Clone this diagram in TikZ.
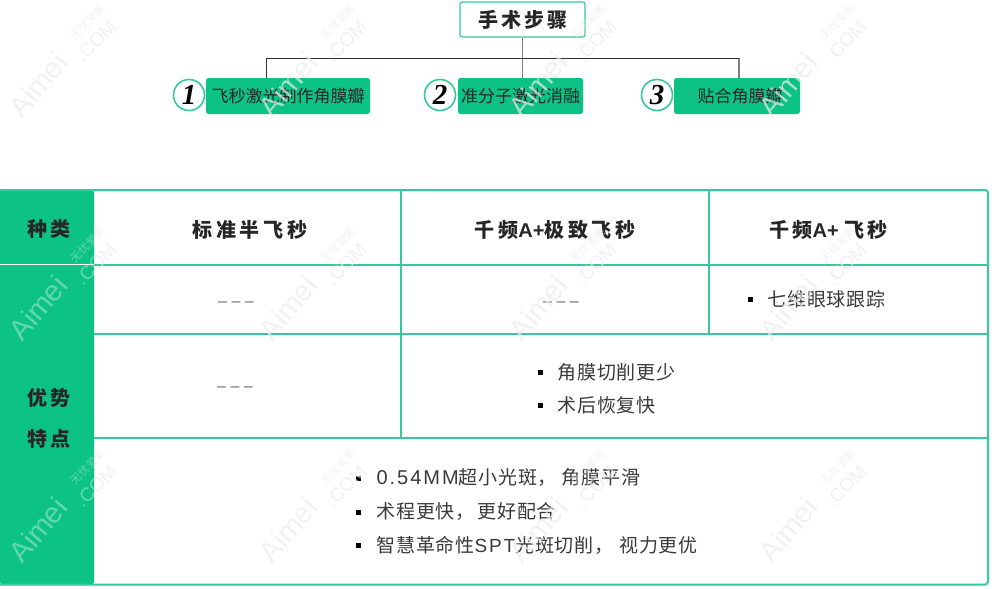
\documentclass[tikz,border=0pt]{standalone}
\usepackage{fontspec}
\setmainfont{Noto Sans CJK SC}
\newfontfamily\numfont{Liberation Serif}
\newfontfamily\lat{Liberation Sans}
\definecolor{gr}{HTML}{0DC285}
\definecolor{ln}{HTML}{35C99B}
\definecolor{txt}{HTML}{3A3A3A}
\newcommand{\wmark}[4]{%
 \begin{scope}[shift={(#1,#2)}]
  \node[rotate=50,text=#3,opacity=#4,font=\lat\fontsize{29}{29}\selectfont] at (0,0) {Aimei};
  \node[rotate=46,text=#3,opacity=#4,font=\lat\fontsize{19}{19}\selectfont] at (58,-44) {.COM};
  \node[rotate=46,text=#3,opacity=#4,font=\fontsize{11}{11}\selectfont] at (50,-63) {无忧爱美};
 \end{scope}}
\tikzset{
 x=1pt,y=-1pt,
 stepbox/.style={fill=gr,rounded corners=2.5pt,minimum height=36pt,inner sep=0pt,font=\fontsize{17}{17}\selectfont,text=black!85},
 numc/.style={circle,draw=ln,fill=white,line width=1.6pt,minimum size=31pt,inner sep=0pt,font=\numfont\fontsize{29}{29}\selectfont\bfseries\itshape},
 head/.style={font=\fontsize{20}{20}\selectfont\bfseries\addfontfeature{LetterSpace=18},text=black!85},
 side/.style={font=\fontsize{20}{20}\selectfont\bfseries\addfontfeature{LetterSpace=15},text=black!85},
 body/.style={font=\fontsize{19}{19}\selectfont\addfontfeature{LetterSpace=4},text=txt,anchor=west},
 bul/.style={fill=black,minimum size=5pt,inner sep=0pt},
 dashtxt/.style={font=\lat\fontsize{16}{16}\selectfont,text=black!60},
 tline/.style={draw=ln,line width=2pt},
}
\begin{document}
\begin{tikzpicture}
\useasboundingbox (0,0) rectangle (997,589);
\fill[white] (0,0) rectangle (997,589);
% table
\fill[gr,rounded corners=3pt] (0,189) -- (94,189) -- (94,585) -- (0,585) -- cycle;
\draw[white,line width=1pt] (0,264.5) -- (94,264.5);
\draw[tline,rounded corners=3pt] (0,190) -- (988,190) -- (988,584.5) -- (0,584.5);
\draw[tline] (94,264.5) -- (988,264.5);
\draw[tline] (94,333.5) -- (988,333.5);
\draw[tline] (94,437.5) -- (988,437.5);
\draw[tline] (401,190) -- (401,437.5);
\draw[tline] (709,190) -- (709,333.5);
% top tree
\node[draw=ln,fill=white,line width=1.2pt,rounded corners=2.5pt,minimum width=125pt,minimum height=35pt,inner sep=0pt,font=\fontsize{20}{20}\selectfont\bfseries\addfontfeature{LetterSpace=15},text=black!85] (root) at (522.5,19.5) {手术步骤};
\node[stepbox,minimum width=164pt] (s1) at (288,96) {飞秒激光制作角膜瓣};
\node[stepbox,minimum width=125pt] (s2) at (520.5,96) {准分子激光消融};
\node[stepbox,minimum width=126pt] (s3) at (737,96) {\hspace{6pt}贴合角膜瓣};
\coordinate (bus) at (522.5,58);
\coordinate (busl) at (266,58);
\coordinate (busr) at (739,58);
\draw[gray,line width=1.5pt] (root.south) -- (bus);
\draw[gray,line width=1.5pt] (bus) -- (bus |- s2.north);
\draw[gray,line width=1.5pt] (busr) -- (busr |- s3.north);
\draw[black!80,line width=.9pt] (busl |- s1.north) -- (busl) -- (busr);
\node[numc] (n1) at (189,95) {1};
\node[numc] (n2) at (440,95) {2};
\node[numc] (n3) at (657,95) {3};
\node[side] (k1) at (49,229) {种类};
\node[side] (k2) at (49,398) {优势};
\node[side] (k3) at (49,439) {特点};
\node[head] (h1) at (250,230) {标准半飞秒};
\node[head] (h2) at (555,230) {千频{\lat A+}极致飞秒};
\node[head] (h3) at (828.5,230) {千频{\lat A+ }飞秒};
\node[dashtxt] (d1) at (236,304) {– – –};
\node[dashtxt] (d2) at (561,304) {– – –};
\node[dashtxt] (d3) at (235,389) {– – –};
\node[bul] (b0) at (750,299) {};
\node[body] (t0) at (764,299) {七维眼球跟踪};
\node[bul] (b1) at (540,372) {};
\node[body] (t1) at (554,372) {角膜切削更少};
\node[bul] (b2) at (540,405) {};
\node[body] (t2) at (554,405) {术后恢复快};
\node[bul] (b3) at (358,478) {};
\node[body] (t3) at (373,478) {{\lat\fontsize{20}{20}\selectfont\addfontfeature{LetterSpace=10}0.54MM}超小光斑，\hspace{5pt}角膜平滑};
\node[bul] (b4) at (358,512) {};
\node[body] (t4) at (373,512) {术程更快，\hspace{3pt}更好配合};
\node[bul] (b5) at (358,545) {};
\node[body] (t5) at (373,545) {智慧革命性{\lat\addfontfeature{LetterSpace=10}SPT}光斑切削，\hspace{6pt}视力更优};
% watermarks
\begin{scope}
 \clip (94,0) rectangle (997,589) (0,0) rectangle (94,189);
 \foreach \xx in {38,288,538,788}{
  \foreach \yy in {85,308,530}{
   \wmark{\xx}{\yy}{gray!15}{.7}
  }
 }
\end{scope}
\begin{scope}
 \clip (0,189) rectangle (94,585);
 \wmark{38}{308}{white}{.35}
 \wmark{38}{530}{white}{.35}
\end{scope}
\end{tikzpicture}
\end{document}
